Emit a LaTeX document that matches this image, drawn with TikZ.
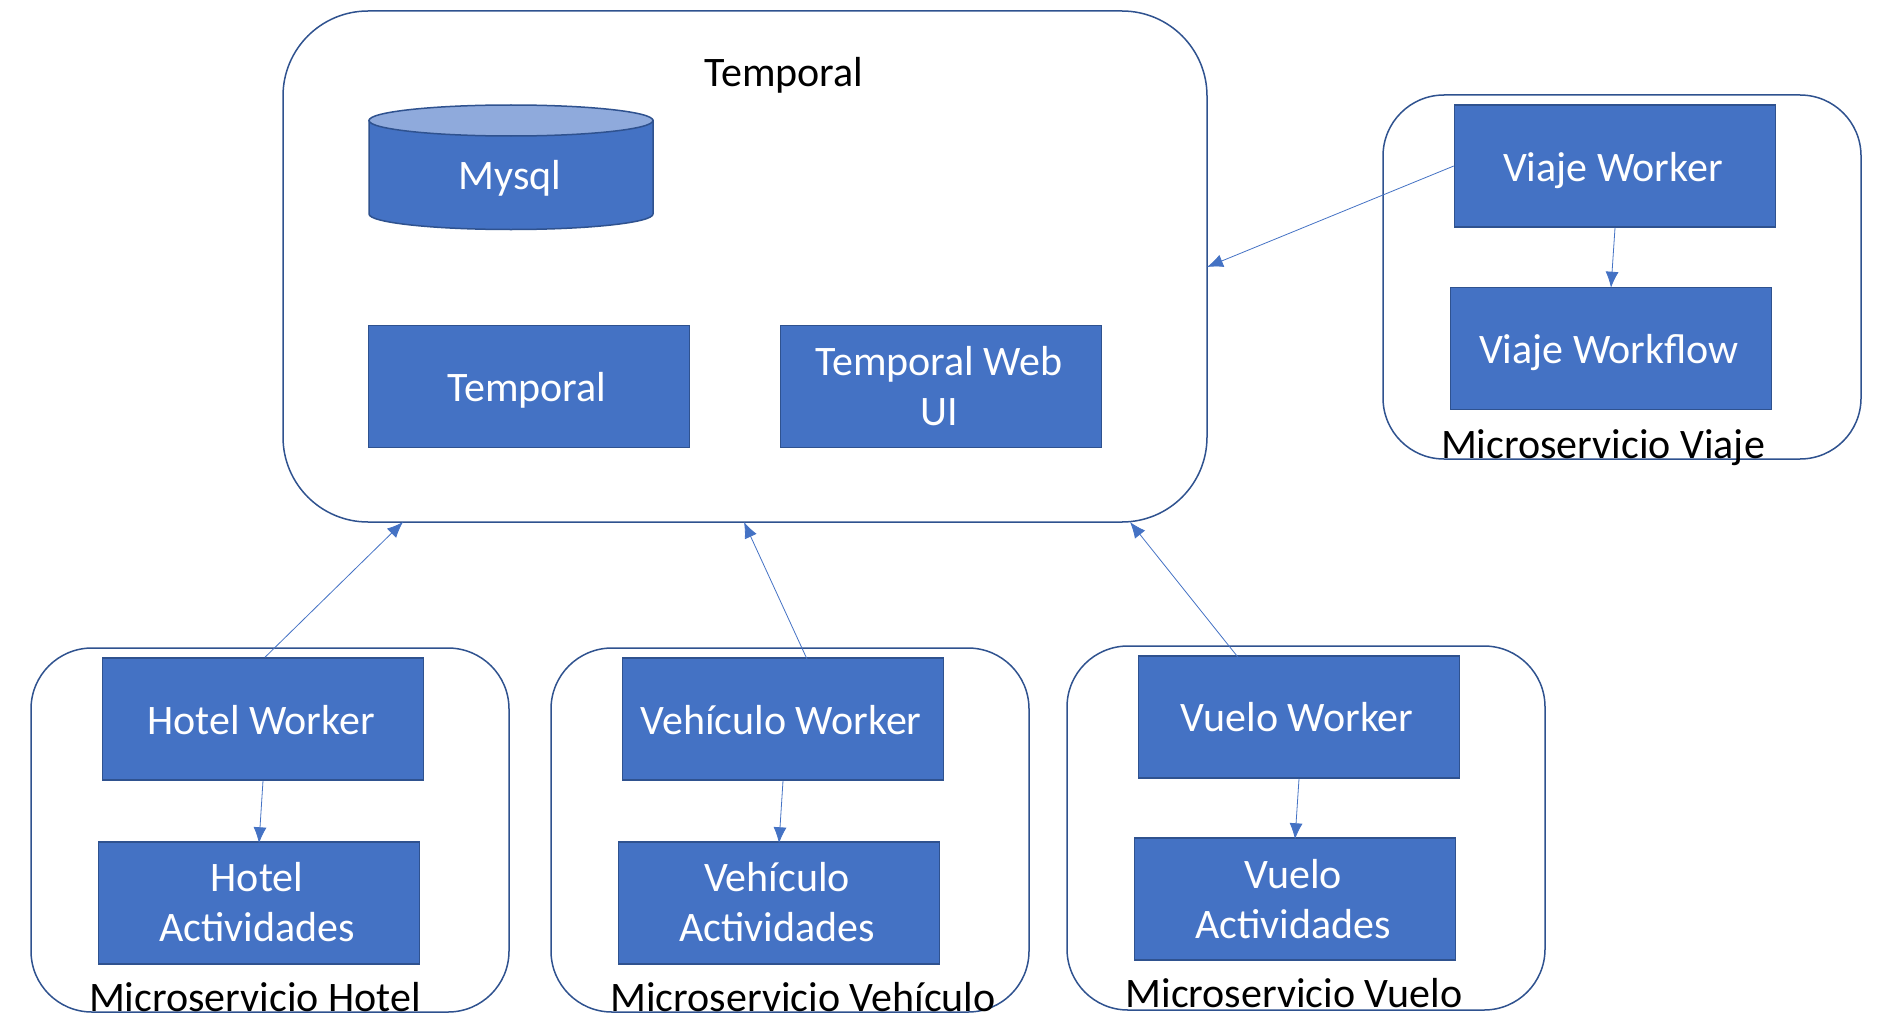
\documentclass[tikz,border=0pt]{standalone}
\usepackage{fontspec}
\setmainfont{Carlito}
\usetikzlibrary{arrows.meta}
\definecolor{fillblue}{HTML}{4472C4}
\definecolor{edgeblue}{HTML}{2F528F}
\definecolor{topblue}{HTML}{8FAADC}
\newcommand{\tln}[1]{\rule[-6pt]{0pt}{40pt}#1\hspace*{4pt}}
\newcommand{\tls}[1]{\rule[-4pt]{0pt}{38pt}\smash{#1}\hspace*{4pt}}
\newcommand{\tlm}[1]{\rule[-8pt]{0pt}{42pt}#1\hspace*{4pt}}
\tikzset{
  x=1pt,y=-1pt,
  panel/.style={draw=edgeblue,line width=1.5pt,fill=white,rounded corners=#1},
  bluebox/.style={draw=edgeblue,line width=1.5pt,fill=fillblue,text=white,minimum width=321pt,minimum height=122pt,inner sep=0pt,align=center,font=\fontsize{42}{50}\selectfont},
  caption/.style={text=black,inner sep=0pt,font=\fontsize{42}{50}\selectfont,anchor=base},
  link/.style={draw=fillblue,line width=0.8pt,-{Latex[length=16pt,width=13pt]},shorten >=0pt}
}
\begin{document}
\begin{tikzpicture}
\useasboundingbox (0,0) rectangle (1878,1030);
% panels
\draw[panel=85pt] (283,11) rectangle (1207,522);
\draw[panel=61pt] (31,648) rectangle (509,1012);
\draw[panel=61pt] (551,648) rectangle (1029,1012);
\draw[panel=61pt] (1067,646) rectangle (1545,1010);
\draw[panel=61pt] (1383,95) rectangle (1861,459);
\coordinate (temporalpanelS) at (744,522);
\coordinate (temporalpanelE) at (1207,267);
% captions
\node[caption] (temporaltitle) at (784,87) {Temporal};
\node[caption] (hotelcap) at (255,1011) {Microservicio Hotel};
\node[caption] (vehiculocap) at (803,1011) {Microservicio Vehículo};
\node[caption] (vuelocap) at (1294,1007) {Microservicio Vuelo};
\node[caption] (viajecap) at (1603,458) {Microservicio Viaje};
% database
\draw[edgeblue,line width=1.5pt,fill=fillblue]
  (369,120.5) -- (369,214) arc[start angle=180,end angle=360,x radius=142,y radius=-15.5] -- (653,120.5) -- cycle;
\draw[edgeblue,line width=1.5pt,fill=topblue] (511,120.5) ellipse[x radius=142,y radius=15.5];
\node[text=white,inner sep=0pt,anchor=base,font=\fontsize{42}{50}\selectfont] (mysql) at (510,189.5) {Mysql};
% boxes
\node[bluebox] (temporal) at (529,386.5) {\tls{Temporal}};
\node[bluebox] (webui) at (941,386.5) {\tln{Temporal Web}\\\tln{UI}};
\node[bluebox] (hw) at (263,719) {\tls{Hotel Worker}};
\node[bluebox] (ha) at (259,903) {\tlm{Hotel}\\\tlm{Actividades}};
\node[bluebox] (vw) at (783,719) {\tls{Vehículo Worker}};
\node[bluebox] (va) at (779,903) {\tlm{Vehículo}\\\tlm{Actividades}};
\node[bluebox] (fw) at (1299,717) {\tln{Vuelo Worker}};
\node[bluebox] (fa) at (1295,899) {\tln{Vuelo}\\\tln{Actividades}};
\node[bluebox] (tw) at (1615,166) {\tls{Viaje Worker}};
\node[bluebox] (tf) at (1611,348.5) {\tls{Viaje Workflow}};
% connectors
\draw[link] ([xshift=2pt]hw.north) -- ([xshift=-341pt]temporalpanelS);
\draw[link] ([xshift=25pt,yshift=-4pt]vw.north) -- (temporalpanelS);
\draw[link] ([xshift=-61pt,yshift=-2pt]fw.north) -- ([xshift=386pt]temporalpanelS);
\draw[link] (tw.west) -- (temporalpanelE);
\draw[link] (hw.south) -- ([yshift=-2pt]ha.north);
\draw[link] (vw.south) -- ([yshift=-2pt]va.north);
\draw[link] (fw.south) -- ([yshift=-2pt]fa.north);
\draw[link] (tw.south) -- ([yshift=-1pt]tf.north);
\end{tikzpicture}
\end{document}
